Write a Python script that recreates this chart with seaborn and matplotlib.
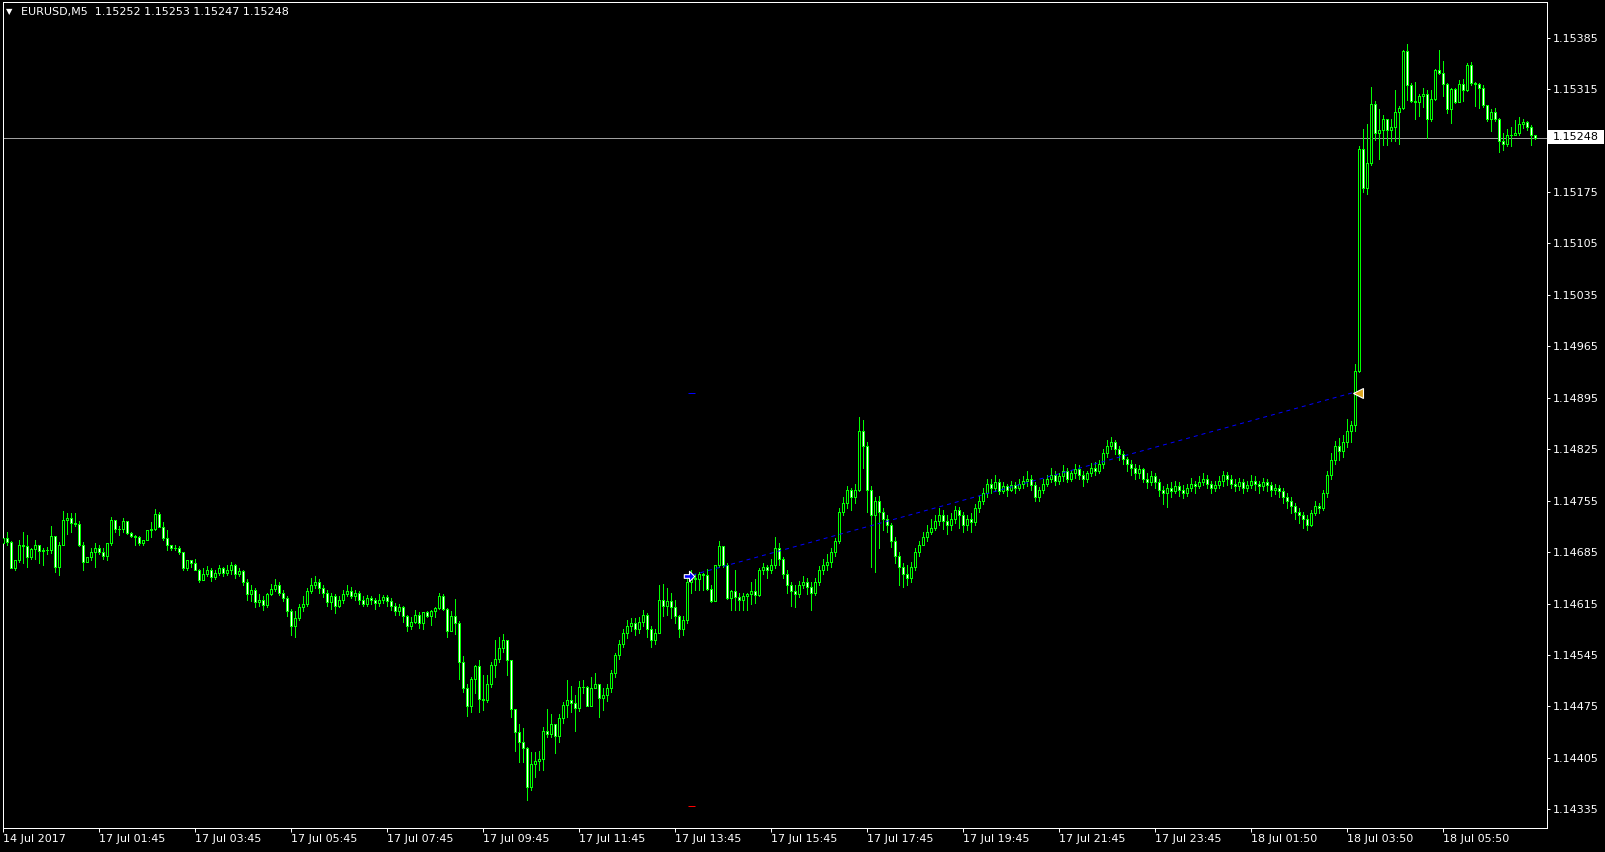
import numpy as np
import pandas as pd
import matplotlib
matplotlib.use("Agg")
import matplotlib.pyplot as plt
from matplotlib.patches import Rectangle
from matplotlib.path import Path
import seaborn as sns

symbol = "EURUSD,M5"
header_quotes = ["1.15252", "1.15253", "1.15247", "1.15248"]
base_price = 1.14000          # values below are in 0.00001 steps above this
first_open_pips = 698
close_pips = [
 704,699,664,674,695,693,679,689,695,687, 688,688,707,665,695,729,732,725,723,695,
 672,678,685,690,685,680,697,729,716,716, 727,711,707,705,697,701,715,717,737,719,
 704,695,690,691,685,663,674,670,661,647, 655,660,651,657,663,656,660,667,655,659,
 645,628,633,617,620,613,628,635,640,630, 622,605,585,596,610,615,632,640,645,636,
 630,617,625,612,620,628,632,625,630,620, 615,622,620,616,620,624,618,612,605,610,
 598,585,590,600,588,604,598,605,609,625, 608,578,598,589,535,500,476,512,530,485,
 484,505,532,540,555,565,538,472,440,426, 419,366,397,401,404,441,438,451,435,459,
 477,484,480,473,501,502,476,500,506,486, 490,500,520,545,560,575,585,588,580,590,
 600,580,565,575,620,612,618,610,598,580, 592,645,650,649,655,654,635,619,667,694,
 667,622,632,624,620,625,628,632,626,660, 665,660,668,690,675,655,640,632,628,640,
 645,638,630,645,660,668,672,685,700,740, 752,770,760,770,850,830,770,735,755,740,
 730,722,700,680,665,655,650,665,685,695, 705,712,718,728,735,728,722,730,742,735,
 722,730,726,745,755,765,778,772,780,768, 775,770,776,772,778,782,785,776,760,770,
 778,785,790,782,788,795,785,792,798,790, 785,792,800,795,805,820,830,835,825,818,
 812,805,800,792,798,785,780,788,780,770, 765,772,768,775,770,766,772,778,775,780,
 785,778,772,776,782,790,785,778,775,780, 772,776,782,778,775,780,776,770,772,768,
 760,755,748,740,735,730,722,738,748,745, 765,790,810,830,822,835,850,858,932,1234,
 1180,1215,1295,1256,1260,1274,1260,1263,1284,1290, 1367,1320,1299,1298,1306,1309,1274,1302,1341,1337,
 1322,1288,1315,1297,1322,1314,1348,1324,1322,1316, 1293,1275,1284,1275,1245,1241,1253,1253,1255,1268,
 1270,1264,1252,1248,
]
high_pips = [
 710,713,700,674,701,713,708,690,701,695, 690,692,720,700,699,741,738,738,738,727,
 699,678,690,697,695,690,697,733,729,720, 731,728,712,708,707,702,715,726,744,740,
 726,715,695,695,693,685,674,674,675,662, 664,666,664,661,668,665,668,671,669,663,
 660,648,640,636,628,625,630,641,648,644, 634,625,608,605,614,625,636,650,653,648,
 640,633,630,628,625,634,640,637,634,632, 625,626,625,623,628,627,626,622,616,614,
 612,600,597,606,604,604,605,606,611,629, 628,609,605,621,591,544,506,515,531,538,
 518,518,536,565,569,573,565,538,472,451, 445,420,413,413,415,447,472,465,450,465,
 481,511,503,491,509,511,503,515,520,506, 500,505,524,548,566,580,592,596,595,597,
 606,602,585,580,640,641,636,630,620,600, 598,648,660,655,658,656,662,640,668,700,
 694,670,633,660,630,629,630,644,649,664, 670,668,675,706,698,678,660,645,640,646,
 652,650,645,650,666,676,682,690,704,745, 760,775,772,778,869,865,835,775,760,762,
 745,735,725,705,685,670,668,672,690,700, 712,722,730,735,745,742,735,738,748,746,
 740,735,738,750,762,772,785,785,790,784, 780,778,782,781,785,788,796,790,780,774,
 784,790,800,795,793,803,800,797,805,803, 795,796,806,808,810,825,838,842,838,830,
 822,815,810,805,803,800,792,795,792,785, 775,778,780,782,780,776,778,786,782,788,
 792,790,782,782,788,795,794,790,784,786, 784,782,790,788,782,786,784,780,778,776,
 772,765,760,752,745,740,735,742,755,752, 770,795,820,836,840,845,866,864,941,1238,
 1261,1268,1318,1299,1288,1280,1268,1275,1314,1292, 1368,1376,1323,1325,1308,1316,1314,1314,1343,1368,
 1353,1323,1317,1317,1327,1329,1351,1352,1325,1324, 1321,1293,1288,1289,1276,1255,1261,1264,1273,1277,
 1275,1272,1266,1253,
]
low_pips = [
 694,695,663,661,671,670,665,676,676,670, 667,683,684,658,654,695,710,713,720,694,
 661,672,674,665,682,676,674,695,713,708, 713,710,706,695,695,695,701,706,715,719,
 702,688,688,688,683,661,661,665,660,645, 650,652,646,648,654,652,654,655,650,652,
 640,620,618,610,612,606,610,626,632,627, 618,598,572,570,592,605,612,630,636,630,
 624,612,608,602,610,616,625,622,620,615, 612,612,615,608,612,616,612,606,600,600,
 590,578,580,588,582,581,597,586,597,608, 606,570,579,574,512,494,462,468,493,468,
 470,481,502,515,536,549,518,461,415,400, 400,348,361,379,389,388,434,434,412,427,
 452,461,468,442,469,493,476,476,502,461, 470,482,495,515,540,556,568,578,572,575,
 585,570,556,560,604,598,600,596,588,570, 572,588,630,634,634,634,634,617,619,665,
 665,621,606,606,606,606,606,615,616,625, 655,650,656,664,668,650,630,612,610,624,
 636,628,606,626,640,655,660,665,680,698, 735,745,742,752,768,800,740,665,658,690,
 715,712,692,670,640,637,640,645,660,680, 695,700,710,715,722,716,710,715,725,718,
 712,715,712,722,740,750,760,765,768,764, 765,762,768,765,770,772,775,770,754,755,
 766,775,780,776,778,782,780,782,786,785, 775,780,788,790,792,800,815,825,818,810,
 805,795,790,785,786,780,772,776,772,762, 750,746,760,765,762,758,762,768,766,772,
 776,772,765,768,772,775,776,772,768,770, 766,768,772,770,766,770,768,762,764,760,
 752,745,738,730,725,718,715,720,735,738, 742,760,785,805,810,815,828,835,850,930,
 1175,1172,1212,1246,1220,1239,1239,1245,1245,1240, 1288,1300,1298,1274,1279,1291,1249,1271,1300,1335,
 1306,1283,1269,1296,1297,1299,1313,1321,1292,1289, 1291,1272,1258,1271,1230,1232,1238,1238,1252,1252,
 1262,1259,1239,1247,
]
x_tick_bars = [0, 24, 48, 72, 96, 120, 144, 168, 192, 216, 240, 264, 288, 312, 336, 360]
x_tick_labels = ["14 Jul 2017", "17 Jul 01:45", "17 Jul 03:45", "17 Jul 05:45", "17 Jul 07:45",
                 "17 Jul 09:45", "17 Jul 11:45", "17 Jul 13:45", "17 Jul 15:45", "17 Jul 17:45",
                 "17 Jul 19:45", "17 Jul 21:45", "17 Jul 23:45", "18 Jul 01:50", "18 Jul 03:50",
                 "18 Jul 05:50"]
y_ticks = [1.14335, 1.14405, 1.14475, 1.14545, 1.14615, 1.14685, 1.14755, 1.14825,
           1.14895, 1.14965, 1.15035, 1.15105, 1.15175, 1.15245, 1.15315, 1.15385]
last_price = 1.15248
trade_open_bar, trade_open_price = 171.3, 1.14652
trade_close_bar, trade_close_price = 338.6, 1.14902
take_profit, stop_loss = 1.14902, 1.14340

# ---------------------------------------------------------------
closes = base_price + np.array(close_pips) / 1e5
opens = np.concatenate([[base_price + first_open_pips / 1e5], closes[:-1]])
highs = np.maximum(base_price + np.array(high_pips) / 1e5, np.maximum(opens, closes))
lows = np.minimum(base_price + np.array(low_pips) / 1e5, np.minimum(opens, closes))
n = len(closes)
df = pd.DataFrame({"bar": np.arange(n), "open": opens, "high": highs, "low": lows, "close": closes})

W, H = 1606, 852
sns.set_theme(style="dark", rc={"axes.facecolor": "black", "figure.facecolor": "black",
                                "savefig.facecolor": "black", "axes.grid": False})
plt.rcParams["font.family"] = ["DejaVu Sans"]
LIME = "#00ff00"
PX = 72 / 100  # one pixel in points

fig = plt.figure(figsize=(W / 100, H / 100), dpi=100)
ax = fig.add_axes([3 / W, 1 - 828 / H, 1544 / W, 826 / H])
ax.set_facecolor("black")

# wicks
ax.vlines(df["bar"], df["low"], df["high"], color=LIME, linewidth=PX, antialiased=False, zorder=2)
# bodies: bull = black body, bear = white body, both with lime outline
bull = df["close"] >= df["open"]
bottoms = np.minimum(df["open"], df["close"])
heights = (df["close"] - df["open"]).abs()
ax.bar(df["bar"][bull], heights[bull], bottom=bottoms[bull], width=0.5, facecolor="black",
       edgecolor=LIME, linewidth=PX, antialiased=False, zorder=3)
ax.bar(df["bar"][~bull], heights[~bull], bottom=bottoms[~bull], width=0.5, facecolor="white",
       edgecolor=LIME, linewidth=PX, antialiased=False, zorder=3)

# current price line
ax.axhline(last_price, color="#a0a0a0", linewidth=PX, zorder=1)

# trade line and markers
trade = pd.DataFrame({"bar": [trade_open_bar + 1.0, trade_close_bar - 1.2],
                      "price": [trade_open_price + 0.00002, trade_close_price]})
sns.lineplot(data=trade, x="bar", y="price", ax=ax, color="#0000ff", linewidth=PX,
             linestyle=(0, (4, 4)), zorder=4)
arrow = Path([(-1, -0.35), (0, -0.35), (0, -1), (1, 0), (0, 1), (0, 0.35), (-1, 0.35), (-1, -0.35)],
             [Path.MOVETO] + [Path.LINETO] * 6 + [Path.CLOSEPOLY])
ax.plot([trade_open_bar], [trade_open_price], marker=arrow, markersize=7.5, color="#0000ff",
        markeredgecolor="white", markeredgewidth=0.8, zorder=6)
ax.plot([trade_close_bar], [trade_close_price], marker="<", markersize=6.5, color="#daa520",
        markeredgecolor="white", markeredgewidth=0.8, zorder=6)
ax.hlines([take_profit], trade_open_bar - 0.1, trade_open_bar + 1.7, color="#0000ff", linewidth=PX, zorder=5)
ax.hlines([stop_loss], trade_open_bar - 0.1, trade_open_bar + 1.7, color="#ff0000", linewidth=PX, zorder=5)

# axes limits / ticks
ax.set_xlim(-0.075, 385.9)
ax.set_ylim(1.143096, 1.154336)
ax.set_xticks(x_tick_bars)
ax.set_xticklabels(x_tick_labels, ha="left")
ax.yaxis.tick_right()
ax.set_yticks(y_ticks)
# the label under the current-price tag is hidden by the tag itself
ax.set_yticklabels(["" if abs(v - last_price) < 0.0001 else f"{v:.5f}" for v in y_ticks])
ax.tick_params(axis="x", colors="white", labelcolor="white", labelsize=8, length=4 * PX,
               width=PX, pad=2 * PX, direction="out", bottom=True)
ax.tick_params(axis="y", colors="white", labelcolor="white", labelsize=8, length=3 * PX,
               width=PX, pad=3 * PX, direction="out", right=True, left=False)
ax.set_xlabel("")
ax.set_ylabel("")
for s in ax.spines.values():
    s.set_visible(True)
    s.set_color("white")
    s.set_linewidth(PX)

# header
fig.text(6 / W, 1 - 12 / H, "▼", color="white", fontsize=6, va="center", ha="left")
fig.text(21 / W, 1 - 12 / H, symbol + "  " + " ".join(header_quotes), color="white",
         fontsize=8, va="center", ha="left")

# current price tag
fig.patches.append(Rectangle((1548 / W, 1 - 144 / H), 56 / W, 14 / H, transform=fig.transFigure,
                             facecolor="white", edgecolor="none", zorder=5))
fig.text(1553 / W, 1 - 137 / H, f"{last_price:.5f}", color="black", fontsize=8,
         va="center", ha="left", zorder=6)

fig.savefig("out.png", dpi=100, facecolor="black")
